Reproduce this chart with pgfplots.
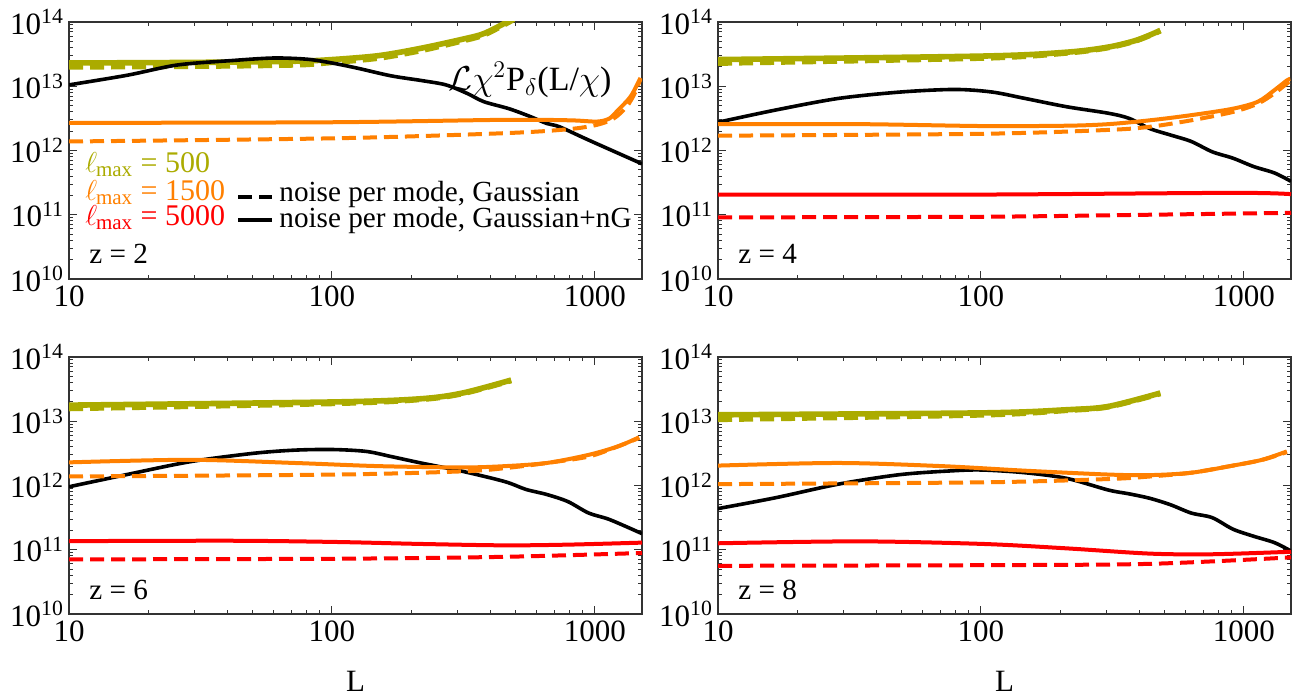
\documentclass[border=0pt]{standalone}
\usepackage{fontspec}
\setmainfont{Liberation Serif}
\usepackage{pgfplots}
\pgfplotsset{compat=1.18}

\definecolor{lolive}{rgb}{0.67,0.67,0}
\definecolor{lorange}{rgb}{1,0.5,0}
\definecolor{lred}{rgb}{1,0,0}

\newcommand{\lfont}{\fontsize{14.6}{17}\selectfont}
\newcommand{\efont}{\fontsize{15}{18}\selectfont}
\newcommand{\tfont}{\fontsize{15.5}{18}\selectfont}
\newcommand{\lmax}{$\ell$\kern-0.6pt\textsubscript{max}}

\pgfplotsset{
  zpanel/.style={
    width=286.5pt, height=128.5pt, scale only axis,
    xmin=10, xmax=1510, ymin=1e10, ymax=1e14,
    xtick={10,100,1000}, xticklabels={10,100,1000},
    ytick={1e10,1e11,1e12,1e13,1e14},
    yticklabels={10\textsuperscript{10},10\textsuperscript{11},10\textsuperscript{12},10\textsuperscript{13},10\textsuperscript{14}},
    minor xtick={20,30,40,50,60,70,80,90,200,300,400,500,600,700,800,900},
    minor ytick={2e10,3e10,4e10,5e10,6e10,7e10,8e10,9e10,2e11,3e11,4e11,5e11,6e11,7e11,8e11,9e11,2e12,3e12,4e12,5e12,6e12,7e12,8e12,9e12,2e13,3e13,4e13,5e13,6e13,7e13,8e13,9e13},
    tick align=inside,
    major tick length=4pt, minor tick length=2pt,
    tick style={black!80, line width=0.5pt},
    axis line style={black!80, line width=0.6pt},
    tick label style={font=\tfont},
    yticklabel style={xshift=1pt},
  },
  olS/.style={lolive, line width=2.8pt, smooth, tension=0.5},
  olD/.style={lolive, line width=2.8pt, dash pattern=on 7pt off 3.5pt, smooth, tension=0.5},
  orS/.style={lorange, line width=2pt, smooth, tension=0.5},
  orD/.style={lorange, line width=2pt, dash pattern=on 7pt off 3.5pt, smooth, tension=0.5},
  rdS/.style={lred, line width=2pt, smooth, tension=0.5},
  rdD/.style={lred, line width=2pt, dash pattern=on 7pt off 3.5pt, smooth, tension=0.5},
  bkS/.style={black, line width=1.8pt, smooth, tension=0.5},
}
\tikzset{txt/.style={anchor=base west, inner sep=0pt, font=\lfont}}

\begin{document}
\begin{tikzpicture}
\useasboundingbox (0,0) rectangle (651.5pt,-347.5pt);

% ---------------- z = 2 ----------------
\begin{loglogaxis}[zpanel, at={(34.5pt,-11pt)}, anchor=north west]
\addplot[olS] coordinates {(10,2.3e13) (30,2.35e13) (72,2.45e13) (100,2.6e13) (151,3.0e13) (218,3.9e13) (314,5.4e13) (378,6.6e13) (463,1.0e14) (490,1.15e14)};
\addplot[olD] coordinates {(10,2.0e13) (30,2.05e13) (72,2.15e13) (100,2.35e13) (151,2.75e13) (218,3.6e13) (314,5.1e13) (378,6.3e13) (463,9.6e13) (490,1.1e14)};
\addplot[bkS] coordinates {(10,1.05e13) (16.6,1.48e13) (25.8,2.14e13) (41.6,2.51e13) (60,2.75e13) (80.7,2.63e13) (100.6,2.29e13) (125,1.91e13) (168,1.45e13) (218,1.23e13) (271,1.05e13) (326,7.76e12) (378,5.75e12) (471,4.47e12) (566,3.39e12) (656,2.63e12) (733,2.34e12) (947,1.45e12) (1510,6.2e11)};
\addplot[orS] coordinates {(10,2.69e12) (100,2.75e12) (454,3.0e12) (800,2.95e12) (1019,2.82e12) (1137,3.16e12) (1225,4.27e12) (1367,6.92e12) (1490,1.35e13)};
\addplot[orD] coordinates {(10,1.38e12) (104,1.55e12) (454,1.86e12) (789,2.14e12) (1019,2.51e12) (1180,3.16e12) (1319,4.79e12) (1420,7.9e12) (1490,1.3e13)};
\node[txt, font=\efont, text=lolive] at (axis description cs:0.028,0.416) {\lmax{} = 500};
\node[txt, font=\efont, text=lorange] at (axis description cs:0.028,0.307) {\lmax{} = 1500};
\node[txt, font=\efont, text=lred] at (axis description cs:0.028,0.210) {\lmax{} = 5000};
\node[txt] at (axis description cs:0.035,0.062) {z = 2};
\draw[black, line width=1.8pt, dash pattern=on 7pt off 3.5pt] (axis description cs:0.295,0.319) -- (axis description cs:0.354,0.319);
\draw[black, line width=1.8pt] (axis description cs:0.295,0.230) -- (axis description cs:0.354,0.230);
\node[txt] at (axis description cs:0.3665,0.300) {noise per mode, Gaussian};
\node[txt] at (axis description cs:0.3665,0.202) {noise per mode, Gaussian+nG};
\node[anchor=center, inner sep=0pt, font=\fontsize{17}{20}\selectfont] at (axis description cs:0.8045,0.774) {$\mathcal{L}\chi^{2}$P$_{\delta}$(L/$\chi$)};
\end{loglogaxis}

% ---------------- z = 4 ----------------
\begin{loglogaxis}[zpanel, at={(359pt,-11pt)}, anchor=north west]
\addplot[olS] coordinates {(10,2.6e13) (102,2.95e13) (212,3.39e13) (305,4.07e13) (393,5.25e13) (481,7.4e13)};
\addplot[olD] coordinates {(10,2.29e13) (102,2.75e13) (212,3.3e13) (305,4.0e13) (393,5.2e13) (481,7.3e13)};
\addplot[bkS] coordinates {(10,2.75e12) (16.6,4.27e12) (28.7,6.46e12) (49.5,8.13e12) (79.5,8.91e12) (110,8.13e12) (147,6.46e12) (212,4.79e12) (305,3.8e12) (366,3.16e12) (439,2.19e12) (526,1.74e12) (631,1.38e12) (757,9.55e11) (908,7.59e11) (1089,5.62e11) (1306,4.47e11) (1510,3.31e11)};
\addplot[orS] coordinates {(10,2.57e12) (34.4,2.57e12) (102,2.4e12) (212,2.43e12) (305,2.57e12) (439,2.95e12) (631,3.55e12) (908,4.47e12) (1130,5.75e12) (1306,8.7e12) (1456,1.23e13) (1500,1.3e13)};
\addplot[orD] coordinates {(10,1.70e12) (102,1.82e12) (305,2.09e12) (439,2.34e12) (631,2.95e12) (908,3.98e12) (1130,5.37e12) (1306,7.76e12) (1456,1.1e13) (1500,1.2e13)};
\addplot[rdS] coordinates {(10,2.06e11) (100,2.06e11) (908,2.19e11) (1510,2.09e11)};
\addplot[rdD] coordinates {(10,9.1e10) (102,9.3e10) (439,1.0e11) (1510,1.07e11)};
\node[txt] at (axis description cs:0.035,0.062) {z = 4};
\end{loglogaxis}

% ---------------- z = 6 ----------------
\begin{loglogaxis}[zpanel, name=axsix, at={(34.5pt,-178.5pt)}, anchor=north west]
\addplot[olS] coordinates {(10,1.78e13) (104,2.0e13) (218,2.24e13) (314,2.75e13) (480,4.37e13)};
\addplot[olD] coordinates {(10,1.58e13) (104,1.9e13) (218,2.19e13) (314,2.7e13) (480,4.3e13)};
\addplot[bkS] coordinates {(10,9.55e11) (16.6,1.48e12) (28.8,2.34e12) (50,3.16e12) (72.3,3.55e12) (100.6,3.63e12) (135,3.39e12) (168,2.82e12) (218,2.24e12) (314,1.66e12) (454,1.15e12) (546,8.7e11) (656,7.24e11) (789,5.62e11) (947,3.72e11) (1137,2.95e11) (1510,1.78e11)};
\addplot[orS] coordinates {(10,2.29e12) (28.8,2.51e12) (72.3,2.24e12) (151,2.0e12) (314,1.91e12) (454,2.0e12) (656,2.24e12) (947,3.0e12) (1225,4.07e12) (1472,5.62e12)};
\addplot[orD] coordinates {(10,1.38e12) (104,1.48e12) (314,1.66e12) (454,1.86e12) (656,2.24e12) (947,2.82e12) (1225,4.07e12) (1472,5.5e12)};
\addplot[rdS] coordinates {(10,1.36e11) (41.6,1.38e11) (104,1.32e11) (218,1.23e11) (454,1.17e11) (789,1.2e11) (1510,1.29e11)};
\addplot[rdD] coordinates {(10,7.08e10) (104,7.24e10) (454,7.76e10) (1510,8.9e10)};
\node[txt] at (axis description cs:0.035,0.058) {z = 6};
\end{loglogaxis}

% ---------------- z = 8 ----------------
\begin{loglogaxis}[zpanel, name=axeight, at={(359pt,-178.5pt)}, anchor=north west]
\addplot[olS] coordinates {(10,1.26e13) (102,1.35e13) (212,1.51e13) (305,1.70e13) (481,2.75e13)};
\addplot[olD] coordinates {(10,1.07e13) (102,1.26e13) (212,1.48e13) (305,1.68e13) (481,2.7e13)};
\addplot[bkS] coordinates {(10,4.37e11) (16.6,6.46e11) (28.7,1.05e12) (49.5,1.48e12) (79.5,1.70e12) (102,1.74e12) (147,1.58e12) (212,1.29e12) (305,8.5e11) (366,7.41e11) (439,6.31e11) (526,5.01e11) (631,3.72e11) (757,3.16e11) (908,2.09e11) (1089,1.62e11) (1306,1.29e11) (1510,9.55e10)};
\addplot[orS] coordinates {(10,2.04e12) (28.7,2.24e12) (71.3,2.0e12) (147,1.70e12) (305,1.48e12) (439,1.45e12) (631,1.58e12) (908,2.04e12) (1172,2.51e12) (1456,3.39e12)};
\addplot[orD] coordinates {(10,1.05e12) (102,1.12e12) (305,1.26e12) (439,1.38e12) (631,1.58e12) (908,2.04e12) (1172,2.5e12) (1456,3.3e12)};
\addplot[rdS] coordinates {(10,1.26e11) (34.4,1.35e11) (102,1.23e11) (212,1.05e11) (439,8.7e10) (757,8.5e10) (1510,9.3e10)};
\addplot[rdD] coordinates {(10,5.62e10) (102,5.75e10) (439,6.03e10) (1510,7.6e10)};
\node[txt] at (axis description cs:0.035,0.058) {z = 8};
\end{loglogaxis}

% axis titles below the lower panels
\node[font=\tfont] at ([yshift=-33.5pt]axsix.south) {L};
\node[font=\tfont] at ([yshift=-33.5pt]axeight.south) {L};
\end{tikzpicture}
\end{document}
